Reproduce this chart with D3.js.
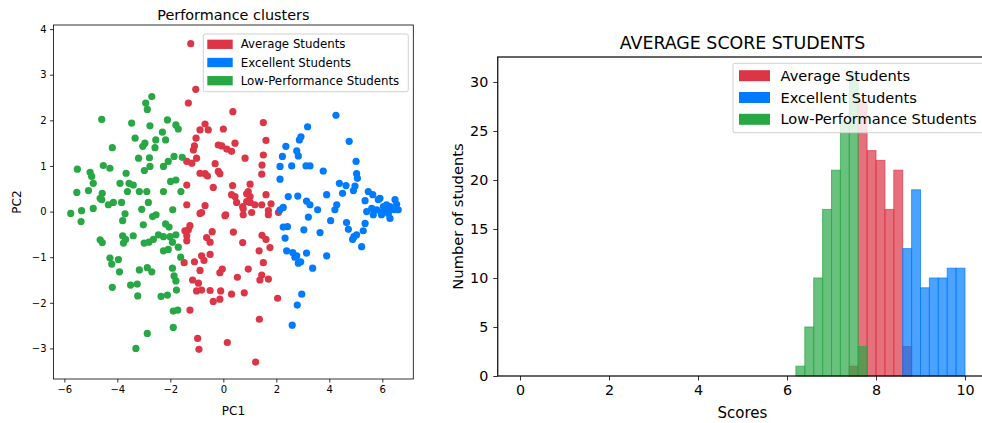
<!DOCTYPE html>
<html>
<head>
<meta charset="utf-8">
<script src="https://cdn.jsdelivr.net/npm/d3@7"></script>
<style>
  body { margin: 0; background: #fff; }
  svg { display: block; font-family: "DejaVu Sans", sans-serif; }
</style>
</head>
<body>
<div id="chart"></div>
<script>
// cluster names and colours (legend order)
const clusterNames = ['Average Students', 'Excellent Students', 'Low-Performance Students']
const clusterColors = ['#dc3545', '#007bff', '#28a745']

// PCA scatter, [PC1, PC2]
const averagePoints = [
  [-1.23, 3.68], [-1.04, 2.68], [-1.32, 2.38], [0.36, 2.19], [1.51, 1.95], [-0.69, 1.92],
  [-0.88, 1.79], [-0.57, 1.79], [0.00, 1.81], [-1.03, 1.61], [-1.09, 1.44], [-1.13, 1.35],
  [0.44, 1.50], [-0.19, 1.46], [-0.06, 1.44], [1.61, 1.56], [0.13, 1.37], [0.31, 1.32],
  [1.51, 1.24], [0.82, 1.17], [-1.38, 1.10], [-1.19, 1.06], [-1.01, 1.17], [-0.31, 1.05],
  [1.46, 1.02], [-0.88, 0.84], [-0.69, 0.83], [-0.19, 0.88], [-0.13, 0.83], [-0.60, 0.78],
  [1.45, 0.82], [0.35, 0.57], [1.01, 0.60], [-1.38, 0.58], [-0.38, 0.53], [0.94, 0.44],
  [0.88, 0.39], [0.31, 0.37], [0.44, 0.33], [1.01, 0.33], [1.61, 0.37], [0.88, 0.22],
  [1.01, 0.20], [-1.38, 0.15], [-0.69, 0.13], [0.75, 0.06], [1.45, 0.15], [1.70, 0.02],
  [2.08, -0.02], [0.09, -0.07], [-0.82, -0.02], [0.50, 0.20], [0.73, 0.11], [1.19, 0.15],
  [1.80, 0.17], [-0.88, -0.04], [0.06, -0.09], [0.75, -0.07], [1.07, -0.02], [1.70, -0.07],
  [-1.26, -0.31], [-1.32, -0.40], [-1.45, -0.42], [-1.38, -0.53], [-1.38, -0.64], [-0.42, -0.44],
  [0.38, -0.45], [-0.63, -0.57], [-0.50, -0.67], [0.73, -0.68], [1.46, -0.52], [1.61, -0.61],
  [1.76, -0.79], [1.35, -0.86], [-0.82, -0.97], [-0.50, -0.94], [-0.73, -1.07], [-1.09, -1.10],
  [1.51, -1.12], [-1.48, -1.12], [-0.04, -1.26], [-0.13, -1.34], [-0.88, -1.29], [0.94, -1.26],
  [0.53, -1.44], [1.45, -1.39], [1.38, -1.50], [1.70, -1.48], [-1.16, -1.50], [-0.94, -1.57],
  [-1.01, -1.74], [-0.82, -1.72], [-0.50, -1.73], [-0.10, -1.74], [0.31, -1.81], [0.79, -1.78],
  [-0.38, -1.97], [-0.13, -1.92], [2.05, -1.90], [-1.26, -2.16], [1.36, -2.36], [-0.97, -2.78],
  [-0.92, -3.02], [0.15, -2.87], [1.22, -3.30]
]
const excellentPoints = [
  [4.25, 2.11], [3.18, 1.86], [2.93, 1.64], [2.87, 1.57], [2.36, 1.43], [4.75, 1.54],
  [2.77, 1.33], [2.83, 1.22], [2.23, 1.21], [5.01, 1.10], [2.14, 0.99], [2.58, 1.00],
  [3.12, 1.00], [3.27, 1.00], [3.77, 0.89], [5.03, 0.83], [5.06, 0.73], [2.14, 0.71],
  [4.38, 0.62], [4.63, 0.57], [4.97, 0.56], [4.91, 0.46], [5.47, 0.44], [5.64, 0.37],
  [2.45, 0.33], [2.81, 0.34], [3.90, 0.37], [4.50, 0.40], [5.91, 0.29], [5.85, 0.26],
  [5.35, 0.24], [3.14, 0.23], [3.27, 0.15], [4.28, 0.15], [4.21, 0.04], [6.48, 0.26],
  [6.54, 0.16], [6.16, 0.15], [6.29, 0.11], [6.04, 0.11], [5.60, 0.07], [5.79, 0.04],
  [2.26, 0.09], [2.14, 0.04], [3.56, 0.04], [6.42, 0.04], [6.60, 0.04], [5.41, 0.00],
  [6.10, 0.04], [6.23, -0.04], [6.54, 0.04], [5.95, -0.02],
  [3.21, -0.12], [4.05, -0.20], [4.65, -0.24], [4.72, -0.39], [5.35, -0.26], [5.28, -0.42],
  [5.66, -0.07], [5.97, -0.07], [6.29, -0.15], [2.26, -0.34], [2.42, -0.33], [3.04, -0.40],
  [3.65, -0.46], [2.33, -0.58], [4.93, -0.55], [5.03, -0.51], [4.88, -0.61], [5.22, -0.77],
  [2.39, -0.86], [2.62, -0.90], [2.77, -0.97], [2.70, -1.00], [2.92, -1.10], [2.83, -1.13],
  [3.14, -0.91], [3.90, -0.97], [3.37, -1.24], [2.96, -1.81], [2.79, -2.05], [2.60, -2.49]
]
const lowPoints = [
  [-2.70, 2.52], [-2.93, 2.38], [-2.87, 2.24], [-4.59, 2.02], [-3.46, 1.94], [-2.11, 2.01],
  [-2.77, 1.88], [-1.79, 1.90], [-1.70, 1.81], [-2.30, 1.74], [-3.33, 1.61], [-2.55, 1.57],
  [-2.18, 1.57], [-2.96, 1.50], [-3.04, 1.43], [-2.58, 1.40], [-4.19, 1.40], [-3.20, 1.17],
  [-2.79, 1.18], [-1.86, 1.21], [-2.08, 1.10], [-1.55, 1.19], [-4.53, 1.01], [-4.28, 0.95],
  [-2.77, 0.99], [-2.98, 0.90], [-5.51, 0.93], [-5.03, 0.86], [-4.97, 0.77], [-4.91, 0.62],
  [-3.67, 0.84], [-2.26, 0.99], [-3.90, 0.62], [-3.56, 0.62], [-3.40, 0.58], [-1.99, 0.66],
  [-1.79, 0.69], [-4.57, 0.40], [-4.65, 0.29], [-4.59, 0.26], [-5.53, 0.42], [-5.09, 0.46],
  [-3.17, 0.44], [-2.89, 0.44], [-3.62, 0.44], [-2.26, 0.44], [-1.60, 0.44], [-4.15, 0.20],
  [-3.84, 0.20], [-4.34, 0.15], [-2.83, 0.20], [-3.08, 0.05], [-4.91, 0.07], [-3.71, -0.05],
  [-2.54, -0.07], [-2.67, -0.11], [-1.91, 0.04], [-5.76, -0.04], [-5.35, 0.02],
  [-5.37, -0.22], [-3.80, -0.20], [-3.02, -0.29], [-2.18, -0.27], [-2.05, -0.34], [-4.65, -0.62],
  [-4.57, -0.68], [-3.80, -0.53], [-3.69, -0.61], [-3.40, -0.53], [-3.77, -0.69], [-2.99, -0.69],
  [-2.81, -0.67], [-2.64, -0.61], [-2.45, -0.51], [-2.26, -0.55], [-2.01, -0.55], [-1.79, -0.51],
  [-1.92, -0.67], [-2.26, -0.86], [-2.08, -0.83], [-1.70, -0.78], [-4.28, -1.02], [-3.96, -1.05],
  [-4.21, -1.15], [-3.92, -1.32], [-1.61, -1.00], [-2.87, -1.23], [-3.17, -1.28], [-2.70, -1.32],
  [-1.92, -1.24], [-1.86, -1.41], [-1.79, -1.52], [-3.50, -1.61], [-3.25, -1.59], [-4.19, -1.66],
  [-3.23, -1.85], [-2.35, -1.86], [-2.11, -1.83], [-1.77, -1.72], [-1.89, -2.18], [-1.72, -2.16],
  [-1.89, -2.54], [-2.87, -2.67], [-3.30, -3.00]
]

// score histograms: bin start and count, bins 0.2 wide
const binWidth = 0.2
const averageBins = [7.4, 7.6, 7.8, 8.0, 8.2, 8.4, 8.6]
const averageCounts = [1, 28, 23, 22, 17, 21, 3]
const excellentBins = [8.6, 8.8, 9.0, 9.2, 9.4, 9.6, 9.8]
const excellentCounts = [13, 19, 9, 10, 10, 11, 11]
const lowBins = [6.2, 6.4, 6.6, 6.8, 7.0, 7.2, 7.4, 7.6]
const lowCounts = [1, 5, 10, 17, 21, 26, 31, 3]

// tick labels
const pcXTicks = [-6, -4, -2, 0, 2, 4, 6]
const pcYTicks = [-3, -2, -1, 0, 1, 2, 3, 4]
const scoreTicks = [0, 2, 4, 6, 8, 10]
const countTicks = [0, 5, 10, 15, 20, 25, 30]

const svg = d3.select('#chart').append('svg')
  .attr('width', 982)
  .attr('height', 423)

svg.append('rect').attr('width', 982).attr('height', 423).attr('fill', '#fff')

const styleAxis = (g, size) => {
  g.select('.domain').remove()
  g.selectAll('line').attr('stroke', '#000').attr('stroke-width', 0.8)
  g.selectAll('text').attr('font-size', size).attr('fill', '#000')
    .attr('font-family', '"DejaVu Sans", sans-serif')
}

// legend box: frame, then one colour patch + label per cluster
const drawLegend = (box, firstRow, rowGap, patch, textX, fontSize) => {
  const lg = svg.append('g')
  lg.append('rect')
    .attr('x', box.x).attr('y', box.y).attr('width', box.w).attr('height', box.h)
    .attr('rx', 2)
    .attr('fill', '#fff').attr('fill-opacity', 0.8)
    .attr('stroke', '#d0d0d0').attr('stroke-width', 1)
  clusterNames.forEach((name, i) => {
    const cy = firstRow + rowGap * i
    lg.append('rect')
      .attr('x', patch.x).attr('y', cy - patch.h / 2)
      .attr('width', patch.w).attr('height', patch.h)
      .attr('fill', clusterColors[i])
    lg.append('text')
      .attr('x', textX).attr('y', cy)
      .attr('dy', '0.35em')
      .attr('font-size', fontSize)
      .text(name)
  })
}

// ---------- left: performance clusters ----------
const x1 = d3.scaleLinear().domain([-6.41, 7.17]).range([53.5, 413.3])
const y1 = d3.scaleLinear().domain([-3.67, 4.09]).range([379, 25])

svg.append('g')
  .attr('transform', 'translate(0,379)')
  .call(d3.axisBottom(x1).tickValues(pcXTicks).tickSize(3.5).tickPadding(3.5))
  .call(g => styleAxis(g, 10))

svg.append('g')
  .attr('transform', 'translate(53.5,0)')
  .call(d3.axisLeft(y1).tickValues(pcYTicks).tickSize(3.5).tickPadding(3.5))
  .call(g => styleAxis(g, 10))

const clusterData = [averagePoints, excellentPoints, lowPoints]
clusterData.forEach((pts, i) => {
  svg.append('g').selectAll('circle')
    .data(pts)
    .enter()
    .append('circle')
    .attr('cx', d => x1(d[0]))
    .attr('cy', d => y1(d[1]))
    .attr('r', 3.6)
    .attr('fill', clusterColors[i])
})

svg.append('rect')
  .attr('x', 53.5).attr('y', 25)
  .attr('width', 413.3 - 53.5).attr('height', 379 - 25)
  .attr('fill', 'none').attr('stroke', '#000').attr('stroke-width', 0.8)

svg.append('text')
  .attr('x', 233.4).attr('y', 20)
  .attr('text-anchor', 'middle').attr('font-size', 14.4)
  .text('Performance clusters')

svg.append('text')
  .attr('x', 233.4).attr('y', 415)
  .attr('text-anchor', 'middle').attr('font-size', 12)
  .text('PC1')

svg.append('text')
  .attr('transform', 'translate(21,202) rotate(-90)')
  .attr('text-anchor', 'middle').attr('font-size', 12)
  .text('PC2')

drawLegend({ x: 203.3, y: 34, w: 205, h: 57.7 }, 44.3, 18.2,
  { x: 207.3, w: 25.4, h: 9.3 }, 240.7, 11.8)

// ---------- right: average score histogram ----------
const x2 = d3.scaleLinear().domain([-0.5, 10.5]).range([497.75, 987.25])
const y2 = d3.scaleLinear().domain([0, 32.55]).range([376, 57])

svg.append('g')
  .attr('transform', 'translate(0,376)')
  .call(d3.axisBottom(x2).tickValues(scoreTicks).tickSize(4.5).tickPadding(4))
  .call(g => styleAxis(g, 14.3))

svg.append('g')
  .attr('transform', 'translate(497.75,0)')
  .call(d3.axisLeft(y2).tickValues(countTicks).tickSize(4.5).tickPadding(5))
  .call(g => styleAxis(g, 14.3))

const histData = [
  [averageBins, averageCounts],
  [excellentBins, excellentCounts],
  [lowBins, lowCounts]
]
histData.forEach(([bins, counts], i) => {
  svg.append('g').selectAll('rect')
    .data(bins.map((b, j) => ({ start: b, count: counts[j] })))
    .enter()
    .append('rect')
    .attr('x', d => x2(d.start))
    .attr('y', d => y2(d.count))
    .attr('width', d => x2(d.start + binWidth) - x2(d.start))
    .attr('height', d => y2(0) - y2(d.count))
    .attr('fill', clusterColors[i])
    .attr('fill-opacity', 0.7)
    .attr('stroke', clusterColors[i])
    .attr('stroke-opacity', 0.7)
    .attr('stroke-width', 1)
})

svg.append('rect')
  .attr('x', 497.75).attr('y', 57)
  .attr('width', 987.25 - 497.75).attr('height', 376 - 57)
  .attr('fill', 'none').attr('stroke', '#000').attr('stroke-width', 1.2)

svg.append('text')
  .attr('x', 742.5).attr('y', 48.5)
  .attr('text-anchor', 'middle').attr('font-size', 17.4)
  .text('AVERAGE SCORE STUDENTS')

svg.append('text')
  .attr('x', 742.5).attr('y', 418)
  .attr('text-anchor', 'middle').attr('font-size', 15)
  .text('Scores')

svg.append('text')
  .attr('transform', 'translate(463,216.5) rotate(-90)')
  .attr('text-anchor', 'middle').attr('font-size', 14.7)
  .text('Number of students')

drawLegend({ x: 733, y: 63.3, w: 260, h: 69.4 }, 75.7, 21.8,
  { x: 739, w: 31, h: 11 }, 780.5, 14.6)
</script>
</body>
</html>
